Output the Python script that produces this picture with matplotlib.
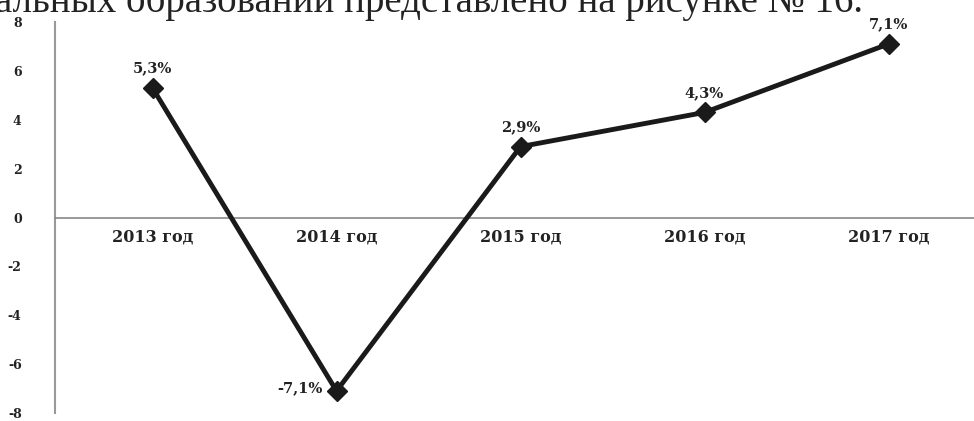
import matplotlib
matplotlib.use("Agg")
import matplotlib.pyplot as plt

years = ["2013 год", "2014 год", "2015 год", "2016 год", "2017 год"]
values = [5.3, -7.1, 2.9, 4.3, 7.1]
labels = ["5,3%", "-7,1%", "2,9%", "4,3%", "7,1%"]
yticks = [-8, -6, -4, -2, 0, 2, 4, 6, 8]
header = "альных образований представлено на рисунке № 16."

fig = plt.figure(figsize=(9.74, 4.21), dpi=100)
ax = fig.add_axes([55/974, 1 - 413/421, 920/974, (413 - 22)/421])

for s in ["top", "right"]:
    ax.spines[s].set_visible(False)
ax.spines["bottom"].set_position(("data", 0))
ax.spines["bottom"].set_color("#888")
ax.spines["bottom"].set_linewidth(1.2)
ax.spines["left"].set_color("#999")
ax.spines["left"].set_linewidth(1.5)

x = list(range(len(years)))
ax.plot(x, values, color="#1a1a1a", lw=3.5, marker="D", ms=10, mfc="#1a1a1a", mec="#1a1a1a", zorder=3)

ax.set_xlim(-0.53, 4.47)
ax.set_ylim(-8, 8)
ax.set_yticks(yticks)
ax.set_yticklabels([str(v) for v in yticks], family="DejaVu Serif", fontweight="bold", fontsize=9, color="#222")
ax.set_xticks(x)
ax.set_xticklabels(years, family="DejaVu Serif", fontweight="bold", fontsize=11.5, color="#222")
ax.tick_params(axis="y", length=0, pad=24)
ax.tick_params(axis="x", length=0, pad=8)

for i, (v, t) in enumerate(zip(values, labels)):
    if v < 0:
        ax.annotate(t, (i, v), xytext=(-10, 2), textcoords="offset points", ha="right", va="center",
                    family="DejaVu Serif", fontweight="bold", fontsize=10.5, color="#222")
    else:
        ax.annotate(t, (i, v), xytext=(0, 9), textcoords="offset points", ha="center", va="bottom",
                    family="DejaVu Serif", fontweight="bold", fontsize=10.5, color="#222")

fig.text(-0.005, 1 - 12/421, header, family="Liberation Serif", fontsize=28, color="#222",
         ha="left", va="baseline")

fig.savefig("out.png", dpi=100)
